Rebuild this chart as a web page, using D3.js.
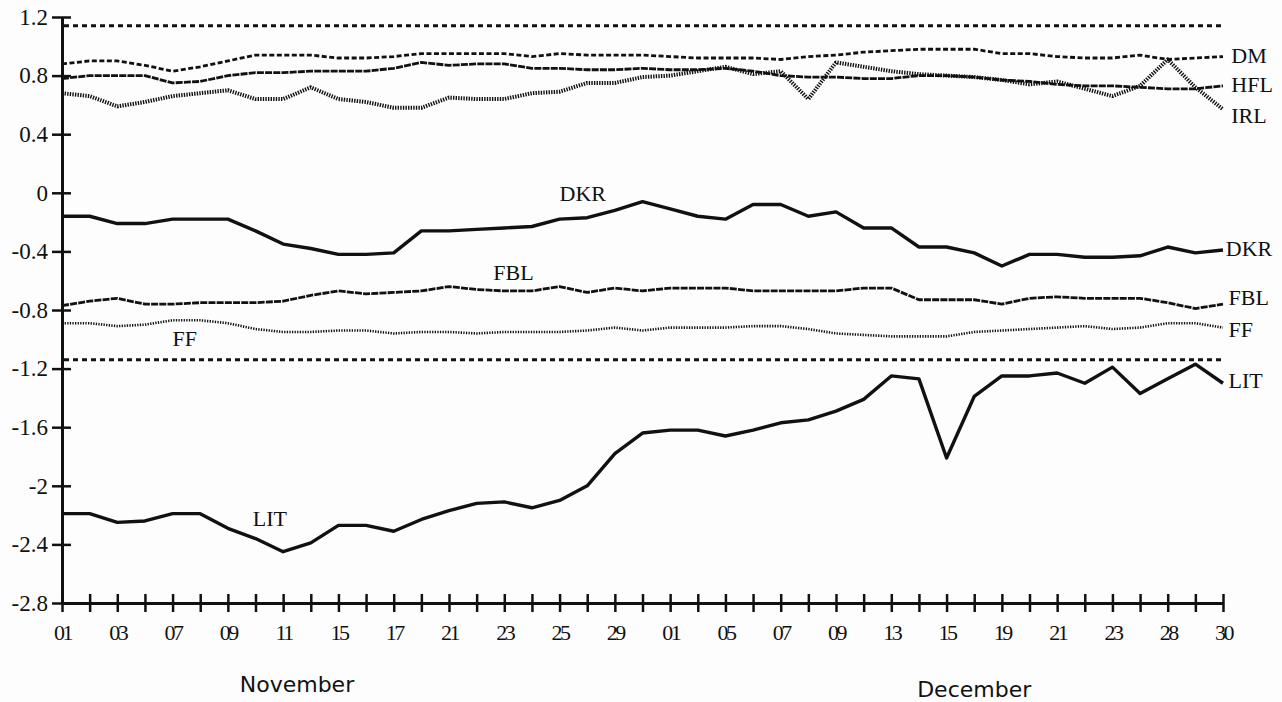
<!DOCTYPE html>
<html>
<head>
<meta charset="utf-8">
<script src="https://cdn.jsdelivr.net/npm/d3@7"></script>
<style>
  body { margin: 0; background: #fdfdfd; }
  #container { width: 1282px; height: 702px; }
  .tickLabel { font-family: 'Liberation Serif', 'Times New Roman', serif; fill: #111; }
  .seriesLabel { font-family: 'Liberation Serif', 'Times New Roman', serif; font-size: 22px; fill: #111; }
  .month { font-family: 'DejaVu Sans', Verdana, sans-serif; font-size: 22px; fill: #111; }
</style>
</head>
<body>
<div id="container"></div>
<script>
// DATA
const xTickLabels = ['01', '03', '07', '09', '11', '15', '17', '21', '23', '25', '29',
  '01', '05', '07', '09', '13', '15', '19', '21', '23', '28', '30']
const months = ['November', 'December']
const yTicks = [1.2, 0.8, 0.4, 0, -0.4, -0.8, -1.2, -1.6, -2, -2.4, -2.8]
const refLines = [1.14, -1.14]

const dm = [0.88, 0.90, 0.90, 0.87, 0.83, 0.86, 0.90, 0.94, 0.94, 0.94, 0.92, 0.92, 0.93, 0.95,
  0.95, 0.95, 0.95, 0.93, 0.95, 0.94, 0.94, 0.94, 0.93, 0.92, 0.92, 0.92, 0.91, 0.93, 0.94,
  0.96, 0.97, 0.98, 0.98, 0.98, 0.95, 0.95, 0.93, 0.92, 0.92, 0.94, 0.91, 0.92, 0.93]
const hfl = [0.78, 0.80, 0.80, 0.80, 0.75, 0.76, 0.80, 0.82, 0.82, 0.83, 0.83, 0.83, 0.85, 0.89,
  0.87, 0.88, 0.88, 0.85, 0.85, 0.84, 0.84, 0.85, 0.84, 0.84, 0.85, 0.83, 0.80, 0.79, 0.79,
  0.78, 0.78, 0.80, 0.80, 0.79, 0.77, 0.76, 0.74, 0.73, 0.73, 0.72, 0.71, 0.71, 0.73]
const irl = [0.68, 0.66, 0.59, 0.62, 0.66, 0.68, 0.70, 0.64, 0.64, 0.72, 0.64, 0.62, 0.58, 0.58,
  0.65, 0.64, 0.64, 0.68, 0.69, 0.75, 0.75, 0.79, 0.80, 0.83, 0.86, 0.81, 0.83, 0.64, 0.89,
  0.86, 0.83, 0.81, 0.80, 0.79, 0.77, 0.74, 0.76, 0.71, 0.66, 0.73, 0.91, 0.72, 0.57]
const dkr = [-0.16, -0.16, -0.21, -0.21, -0.18, -0.18, -0.18, -0.26, -0.35, -0.38, -0.42, -0.42,
  -0.41, -0.26, -0.26, -0.25, -0.24, -0.23, -0.18, -0.17, -0.12, -0.06, -0.11, -0.16, -0.18,
  -0.08, -0.08, -0.16, -0.13, -0.24, -0.24, -0.37, -0.37, -0.41, -0.50, -0.42, -0.42, -0.44,
  -0.44, -0.43, -0.37, -0.41, -0.39]
const fbl = [-0.77, -0.74, -0.72, -0.76, -0.76, -0.75, -0.75, -0.75, -0.74, -0.70, -0.67, -0.69,
  -0.68, -0.67, -0.64, -0.66, -0.67, -0.67, -0.64, -0.68, -0.65, -0.67, -0.65, -0.65, -0.65,
  -0.67, -0.67, -0.67, -0.67, -0.65, -0.65, -0.73, -0.73, -0.73, -0.76, -0.72, -0.71, -0.72,
  -0.72, -0.72, -0.75, -0.79, -0.76]
const ff = [-0.89, -0.89, -0.91, -0.90, -0.87, -0.87, -0.89, -0.93, -0.95, -0.95, -0.94, -0.94,
  -0.96, -0.95, -0.95, -0.96, -0.95, -0.95, -0.95, -0.94, -0.92, -0.94, -0.92, -0.92, -0.92,
  -0.91, -0.91, -0.93, -0.96, -0.97, -0.98, -0.98, -0.98, -0.95, -0.94, -0.93, -0.92, -0.91,
  -0.93, -0.92, -0.89, -0.89, -0.92]
const lit = [-2.19, -2.19, -2.25, -2.24, -2.19, -2.19, -2.29, -2.36, -2.45, -2.39, -2.27, -2.27,
  -2.31, -2.23, -2.17, -2.12, -2.11, -2.15, -2.10, -2.00, -1.78, -1.64, -1.62, -1.62, -1.66,
  -1.62, -1.57, -1.55, -1.49, -1.41, -1.25, -1.27, -1.81, -1.39, -1.25, -1.25, -1.23, -1.30,
  -1.19, -1.37, -1.27, -1.17, -1.30]

const w = 1282
const h = 702
const margin = { left: 62, right: 59, top: 17, bottom: 99 }

const series = [
  { name: 'DM', values: dm, width: 2.8, dash: '5,2.5' },
  { name: 'HFL', values: hfl, width: 2.8, dash: '7,1.2' },
  { name: 'IRL', values: irl, width: 4, dash: '1.4,1.2' },
  { name: 'DKR', values: dkr, width: 3.4, dash: null },
  { name: 'FBL', values: fbl, width: 2.8, dash: '7,1.2' },
  { name: 'FF', values: ff, width: 2.6, dash: '1.3,1.3' },
  { name: 'LIT', values: lit, width: 3.4, dash: null }
]

//label anchors in data units (index, value)
const labels = [
  { text: 'DM', i: 42.3, v: 0.94 },
  { text: 'HFL', i: 42.3, v: 0.74 },
  { text: 'IRL', i: 42.3, v: 0.53 },
  { text: 'DKR', i: 42.1, v: -0.38 },
  { text: 'FBL', i: 42.2, v: -0.71 },
  { text: 'FF', i: 42.2, v: -0.935 },
  { text: 'LIT', i: 42.2, v: -1.28 },
  { text: 'DKR', i: 18, v: 0.0 },
  { text: 'FBL', i: 15.6, v: -0.54 },
  { text: 'FF', i: 4, v: -0.99 },
  { text: 'LIT', i: 6.9, v: -2.22 }
]

//SCALES
const x = d3.scaleLinear()
  .domain([0, dm.length - 1])
  .range([margin.left, w - margin.right])

const y = d3.scaleLinear()
  .domain([-2.8, 1.2])
  .range([h - margin.bottom, margin.top])

const svg = d3.select('#container')
  .append('svg')
  .attr('width', w)
  .attr('height', h)

//REFERENCE LINES
svg.selectAll('.ref')
  .data(refLines)
  .enter()
  .append('line')
  .attr('class', 'ref')
  .attr('x1', x(0) + 2)
  .attr('x2', x(42))
  .attr('y1', d => y(d))
  .attr('y2', d => y(d))
  .attr('stroke', '#111')
  .attr('stroke-width', 3)
  .attr('stroke-dasharray', '5,4')

//LINES
const line = d3.line()
  .x((d, i) => x(i))
  .y(d => y(d))

svg.selectAll('.series')
  .data(series)
  .enter()
  .append('path')
  .attr('class', 'series')
  .attr('d', d => line(d.values))
  .attr('fill', 'none')
  .attr('stroke', '#111')
  .attr('stroke-width', d => d.width)
  .attr('stroke-dasharray', d => d.dash)
  .attr('stroke-linejoin', 'round')

//AXES
const yAxis = d3.axisLeft(y)
  .tickValues(yTicks)
  .tickFormat(d => d3.format('.1f')(d).replace('.0', '').replace('−', '-'))
  .tickSizeInner(10)
  .tickSizeOuter(0)
  .tickPadding(4)

const gy = svg.append('g')
  .attr('transform', `translate(${margin.left},0)`)
  .call(yAxis)

gy.selectAll('.tick line').attr('x1', 9)
gy.selectAll('text')
  .attr('class', 'tickLabel')
  .style('font-size', '23px')

const xAxis = d3.axisBottom(x)
  .tickValues(d3.range(0, 43))
  .tickFormat(i => i % 2 === 0 ? xTickLabels[i / 2] : '')
  .tickSizeInner(9)
  .tickSizeOuter(0)
  .tickPadding(12)

const gx = svg.append('g')
  .attr('transform', `translate(0,${h - margin.bottom})`)
  .call(xAxis)

gx.selectAll('.tick line').attr('y1', -9)
gx.selectAll('text')
  .attr('class', 'tickLabel')
  .style('font-size', '22px')
  .style('letter-spacing', '-2.5px')

svg.selectAll('.domain')
  .attr('stroke', '#111')
  .attr('stroke-width', 3)
svg.selectAll('.tick line')
  .attr('stroke', '#111')
  .attr('stroke-width', 2.5)
svg.selectAll('.tick text').attr('fill', '#111').attr('font-family', null)

//MONTHS
svg.selectAll('.month')
  .data(months)
  .enter()
  .append('text')
  .attr('class', 'month')
  .attr('x', (d, i) => i === 0 ? x(8.5) : x(33))
  .attr('y', (d, i) => i === 0 ? 692 : 697)
  .attr('text-anchor', 'middle')
  .text(d => d)

//SERIES LABELS
svg.selectAll('.seriesLabel')
  .data(labels)
  .enter()
  .append('text')
  .attr('class', 'seriesLabel')
  .attr('x', d => x(d.i))
  .attr('y', d => y(d.v))
  .attr('dy', '0.35em')
  .text(d => d.text)
</script>
</body>
</html>
